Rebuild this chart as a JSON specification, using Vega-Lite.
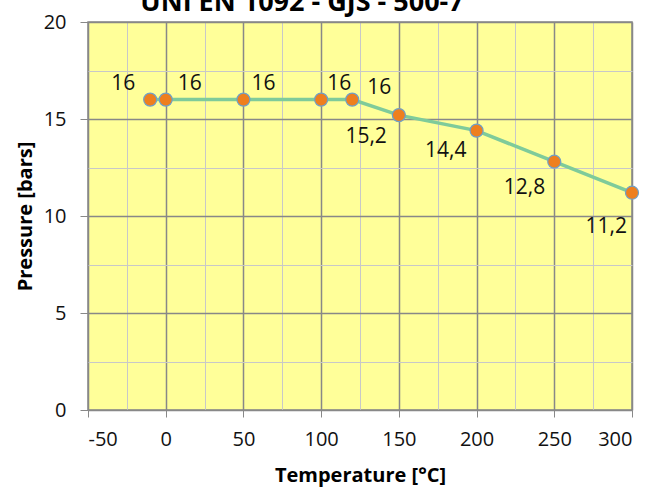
{
  "$schema": "https://vega.github.io/schema/vega-lite/v6.json",
  "autosize": "none",
  "width": 544,
  "height": 388,
  "padding": {"left": 88, "top": 22, "right": 22, "bottom": 82},
  "background": "white",
  "title": {
    "text": "UNI EN 1092 - GJS - 500-7",
    "fontSize": 27,
    "font": "Open Sans",
    "fontWeight": "bold",
    "color": "#000000",
    "anchor": "middle",
    "offset": 0,
    "dx": -58,
    "dy": 26,
    "baseline": "alphabetic"
  },
  "config": {
    "view": {"fill": "#FFFF99", "stroke": "#888888", "strokeWidth": 1.5},
    "axis": {
      "labelFont": "Open Sans",
      "labelFontSize": 20,
      "labelColor": "#111111",
      "titleFont": "Open Sans",
      "titleFontSize": 20,
      "titleFontWeight": "bold",
      "titleColor": "#000000",
      "domain": false
    }
  },
  "data": {
    "values": [
      {"t": -10, "p": 16, "lab": "16"},
      {"t": 0, "p": 16, "lab": "16"},
      {"t": 50, "p": 16, "lab": "16"},
      {"t": 100, "p": 16, "lab": "16"},
      {"t": 120, "p": 16, "lab": "16"},
      {"t": 150, "p": 15.2, "lab": "15,2"},
      {"t": 200, "p": 14.4, "lab": "14,4"},
      {"t": 250, "p": 12.8, "lab": "12,8"},
      {"t": 300, "p": 11.2, "lab": "11,2"}
    ]
  },
  "encoding": {
    "x": {
      "field": "t",
      "type": "quantitative",
      "scale": {"domain": [-50, 300], "nice": false, "zero": false},
      "axis": {
        "title": "Temperature [°C]",
        "titlePadding": 16,
        "values": [-50, -25, 0, 25, 50, 75, 100, 125, 150, 175, 200, 225, 250, 275, 300],
        "labelExpr": "datum.value % 50 === 0 ? replace(datum.label, '−', '-') : ''",
        "gridColor": {"condition": {"test": "datum.value % 50 === 0", "value": "#888888"}, "value": "#C8C8C8"},
        "gridWidth": {"condition": {"test": "datum.value % 50 === 0", "value": 1.5}, "value": 1},
        "tickOpacity": {"condition": {"test": "datum.value % 50 === 0", "value": 1}, "value": 0},
        "tickColor": "#888888",
        "tickSize": 7,
        "labelPadding": 12
      }
    },
    "y": {
      "field": "p",
      "type": "quantitative",
      "scale": {"domain": [0, 20], "nice": false},
      "axis": {
        "title": "Pressure [bars]",
        "titlePadding": 8,
        "values": [0, 2.5, 5, 7.5, 10, 12.5, 15, 17.5, 20],
        "labelExpr": "datum.value % 5 === 0 ? datum.label : ''",
        "gridColor": {"condition": {"test": "datum.value % 5 === 0", "value": "#888888"}, "value": "#C8C8C8"},
        "gridWidth": {"condition": {"test": "datum.value % 5 === 0", "value": 1.5}, "value": 1},
        "tickOpacity": {"condition": {"test": "datum.value % 5 === 0", "value": 1}, "value": 0},
        "tickColor": "#888888",
        "tickSize": 8,
        "labelPadding": 14
      }
    }
  },
  "layer": [
    {"mark": {"type": "line", "color": "#7FCB9A", "strokeWidth": 3.5}},
    {"mark": {"type": "point", "filled": true, "fill": "#EE7F1E", "stroke": "#6FA0C8", "strokeWidth": 1.2, "size": 170, "opacity": 1}},
    {
      "transform": [{"filter": "datum.t == -10"}],
      "mark": {"type": "text", "font": "Open Sans", "fontSize": 21, "color": "#111111", "align": "right", "baseline": "alphabetic", "dx": -15, "dy": -10},
      "encoding": {"text": {"field": "lab"}}
    },
    {
      "transform": [{"filter": "datum.t == 0"}],
      "mark": {"type": "text", "font": "Open Sans", "fontSize": 21, "color": "#111111", "align": "left", "baseline": "alphabetic", "dx": 12, "dy": -10},
      "encoding": {"text": {"field": "lab"}}
    },
    {
      "transform": [{"filter": "datum.t == 50"}],
      "mark": {"type": "text", "font": "Open Sans", "fontSize": 21, "color": "#111111", "align": "left", "baseline": "alphabetic", "dx": 8, "dy": -10},
      "encoding": {"text": {"field": "lab"}}
    },
    {
      "transform": [{"filter": "datum.t == 100"}],
      "mark": {"type": "text", "font": "Open Sans", "fontSize": 21, "color": "#111111", "align": "left", "baseline": "alphabetic", "dx": 6, "dy": -10},
      "encoding": {"text": {"field": "lab"}}
    },
    {
      "transform": [{"filter": "datum.t == 120"}],
      "mark": {"type": "text", "font": "Open Sans", "fontSize": 21, "color": "#111111", "align": "left", "baseline": "alphabetic", "dx": 15, "dy": -6},
      "encoding": {"text": {"field": "lab"}}
    },
    {
      "transform": [{"filter": "datum.t == 150"}],
      "mark": {"type": "text", "font": "Open Sans", "fontSize": 21, "color": "#111111", "align": "right", "baseline": "alphabetic", "dx": -12, "dy": 28},
      "encoding": {"text": {"field": "lab"}}
    },
    {
      "transform": [{"filter": "datum.t == 200"}],
      "mark": {"type": "text", "font": "Open Sans", "fontSize": 21, "color": "#111111", "align": "right", "baseline": "alphabetic", "dx": -10, "dy": 26},
      "encoding": {"text": {"field": "lab"}}
    },
    {
      "transform": [{"filter": "datum.t == 250"}],
      "mark": {"type": "text", "font": "Open Sans", "fontSize": 21, "color": "#111111", "align": "right", "baseline": "alphabetic", "dx": -9, "dy": 32},
      "encoding": {"text": {"field": "lab"}}
    },
    {
      "transform": [{"filter": "datum.t == 300"}],
      "mark": {"type": "text", "font": "Open Sans", "fontSize": 21, "color": "#111111", "align": "right", "baseline": "alphabetic", "dx": -5, "dy": 40},
      "encoding": {"text": {"field": "lab"}}
    }
  ]
}
